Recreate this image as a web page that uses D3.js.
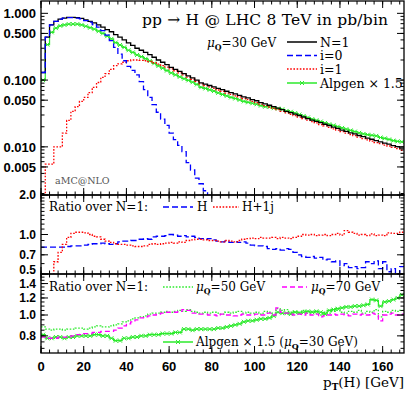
<!DOCTYPE html>
<html>
<head>
<meta charset="utf-8">
<script src="https://cdn.jsdelivr.net/npm/d3@7"></script>
<style>
  body { margin: 0; background: #fff; }
  svg { display: block; }
  .serif { font-family: 'DejaVu Serif', serif; }
  .tick-label { font-family: 'Liberation Sans', Arial, sans-serif; font-weight: bold; font-size: 13px; }
  .tick-label.small { font-size: 12px; }
</style>
</head>
<body>
<svg width="407" height="393"></svg>
<script>
// 2 GeV bins from 0 to 170 GeV
var binWidth = 2;

// top panel, pb/bin
var nOne = [0.13,0.44,0.67,0.76,0.82,0.85,0.87,0.87,0.86,0.84,
  0.80,0.76,0.72,0.67,0.62,0.57,0.53,0.48,0.44,0.40,
  0.36,0.33,0.30,0.28,0.26,0.24,0.22,0.20,0.185,0.17,
  0.155,0.145,0.135,0.125,0.116,0.108,0.100,0.091,0.087,0.083,
  0.079,0.075,0.072,0.068,0.065,0.062,0.059,0.056,0.054,0.051,
  0.049,0.046,0.044,0.042,0.040,0.038,0.036,0.034,0.0325,0.031,
  0.0295,0.028,0.0265,0.0252,0.024,0.023,0.0218,0.0209,0.0197,0.0189,
  0.0178,0.0171,0.0162,0.0156,0.0148,0.0142,0.0135,0.0130,0.0124,0.0119,
  0.0114,0.0110,0.0104,0.0101,0.0096];
var iZero = [0.13,0.44,0.67,0.76,0.82,0.85,0.86,0.86,0.85,0.83,
  0.78,0.74,0.68,0.62,0.55,0.47,0.39,0.31,0.245,0.195,
  0.16,0.14,0.12,0.095,0.072,0.055,0.043,0.033,0.026,0.021,
  0.016,0.0128,0.0105,0.0085,0.0058,0.0045,0.0034,0.0028,0.0022,0.0016];
var iOne = [0.0015,0.0055,0.0055,0.0100,0.0100,0.016,0.025,0.034,0.040,0.048,
  0.055,0.065,0.078,0.092,0.11,0.125,0.145,0.165,0.175,0.185,
  0.195,0.20,0.20,0.198,0.195,0.19,0.182,0.174,0.165,0.156,
  0.147,0.138,0.128,0.12,0.111,0.103,0.096,0.088,0.083,0.079,
  0.075,0.071,0.068,0.064,0.061,0.058,0.056,0.053,0.051,0.048,
  0.046,0.0435,0.0415,0.0395,0.0378,0.036,0.034,0.0322,0.0308,0.0294,
  0.0279,0.0266,0.0251,0.0239,0.0228,0.0216,0.0206,0.0196,0.0186,0.0178,
  0.0169,0.0161,0.0153,0.0148,0.0140,0.0133,0.0127,0.0122,0.0116,0.0112,
  0.0106,0.0103,0.0098,0.0094,0.0089];
var alpgen = [0.10,0.34,0.52,0.60,0.65,0.67,0.69,0.69,0.69,0.67,
  0.64,0.61,0.58,0.54,0.50,0.455,0.415,0.365,0.335,0.31,
  0.28,0.26,0.238,0.224,0.209,0.194,0.178,0.163,0.151,0.139,
  0.128,0.12,0.112,0.105,0.099,0.093,0.086,0.078,0.075,0.0715,
  0.0685,0.0645,0.061,0.058,0.055,0.053,0.0505,0.048,0.0465,0.045,
  0.0435,0.0415,0.040,0.0395,0.038,0.0375,0.0365,0.0345,0.0335,0.032,
  0.0305,0.029,0.0275,0.026,0.025,0.0239,0.0228,0.0218,0.021,0.0201,
  0.0192,0.0184,0.0176,0.0169,0.0162,0.0156,0.0152,0.0149,0.0146,0.0138,
  0.0134,0.0129,0.0124,0.0121,0.0119];

// middle panel, ratio over N=1
var ratioH = [0.80,0.80,0.80,0.80,0.80,0.80,0.81,0.82,0.82,0.82,
  0.83,0.84,0.85,0.85,0.86,0.85,0.84,0.85,0.88,0.89,
  0.89,0.90,0.90,0.92,0.93,0.92,0.96,0.97,0.97,0.98,
  1.00,0.99,0.97,0.98,0.96,0.97,0.95,0.93,0.92,0.93,
  0.91,0.89,0.88,0.89,0.87,0.88,0.87,0.88,0.86,0.83,
  0.82,0.82,0.81,0.78,0.77,0.78,0.76,0.78,0.77,0.73,
  0.70,0.68,0.67,0.68,0.66,0.67,0.64,0.65,0.62,0.63,
  0.58,0.60,0.56,0.57,0.55,0.56,0.62,0.60,0.63,0.55,
  0.62,0.52,0.55,0.50,0.57];
var ratioH1j = [0.20,0.30,0.45,0.62,0.73,0.84,0.95,1.02,1.04,1.04,
  1.03,1.00,0.97,0.96,0.92,0.89,0.87,0.85,0.84,0.84,
  0.83,0.82,0.81,0.81,0.82,0.84,0.85,0.84,0.85,0.86,
  0.87,0.86,0.88,0.87,0.90,0.91,0.92,0.92,0.91,0.90,
  0.90,0.89,0.88,0.90,0.89,0.88,0.90,0.92,0.93,0.94,
  0.93,0.95,0.94,0.94,0.95,0.93,0.95,0.94,0.93,0.95,
  0.97,1.00,0.99,1.00,0.98,0.99,1.00,0.98,1.00,1.02,
  0.99,1.07,1.04,1.02,0.99,1.00,0.98,1.01,0.98,0.99,
  0.98,1.03,1.02,1.02,1.04];

// bottom panel, ratio over N=1
var ratioMu50 = [0.88,0.86,0.85,0.86,0.86,0.85,0.86,0.86,0.87,0.87,
  0.86,0.87,0.88,0.89,0.88,0.88,0.89,0.90,0.91,0.93,
  0.94,0.96,0.97,0.98,0.99,1.01,1.02,1.02,1.03,1.04,
  1.03,1.04,1.05,1.04,1.06,1.04,1.03,1.02,1.03,1.02,
  1.03,1.02,1.01,1.03,1.02,1.03,1.04,1.02,1.03,1.02,
  1.03,1.01,1.04,1.03,1.02,1.07,1.05,1.06,1.03,1.04,
  1.03,1.05,1.02,1.04,1.02,1.00,1.03,1.02,1.04,1.05,
  1.03,1.02,1.04,1.03,1.05,1.02,1.04,1.03,1.06,0.98,
  1.04,1.03,1.05,1.04,1.05];
var ratioMu70 = [0.79,0.78,0.78,0.78,0.79,0.79,0.79,0.80,0.81,0.81,
  0.82,0.82,0.83,0.83,0.84,0.84,0.84,0.85,0.87,0.89,
  0.91,0.93,0.95,0.97,0.98,0.99,1.00,1.01,1.02,1.03,
  1.03,1.03,1.04,1.06,1.05,1.02,1.02,1.01,1.01,1.00,
  1.00,0.99,1.01,1.00,1.00,0.99,1.00,1.01,1.00,1.00,
  1.01,1.00,1.00,1.02,1.00,1.08,1.03,1.02,1.01,1.00,
  1.01,1.00,1.02,1.00,1.01,0.98,0.99,1.00,1.01,1.00,
  1.01,1.00,0.99,1.01,1.00,1.01,1.00,1.02,1.01,0.94,
  1.00,1.01,1.02,1.00,1.01];
var ratioAlpgen = [0.81,0.78,0.78,0.79,0.79,0.78,0.79,0.79,0.80,0.80,
  0.80,0.80,0.81,0.81,0.80,0.80,0.78,0.76,0.76,0.78,
  0.78,0.79,0.79,0.80,0.80,0.81,0.81,0.81,0.82,0.82,
  0.82,0.83,0.83,0.86,0.86,0.85,0.86,0.86,0.86,0.86,
  0.86,0.87,0.87,0.88,0.89,0.90,0.91,0.93,0.94,0.94,
  0.95,0.96,0.96,0.97,0.99,1.03,1.02,1.02,1.01,1.03,
  1.02,1.03,1.04,1.03,1.04,1.03,1.01,1.05,1.06,1.07,
  1.08,1.09,1.09,1.10,1.10,1.11,1.12,1.18,1.17,1.10,
  1.15,1.16,1.18,1.20,1.24];

var xTickValues = [0, 20, 40, 60, 80, 100, 120, 140, 160];
var topTickLabels = [1, 0.5, 0.1, 0.05, 0.01, 0.005];
var midTickLabels = [2.0, 1.0, 0.7, 0.5];
var botTickLabels = [1.4, 1.2, 1.0, 0.8];

var green = '#2cea2c';

var svg = d3.select('svg'),
    x = d3.scaleLinear().domain([0, 170]).range([41, 404]),
    yTop = d3.scaleLog().domain([0.0019, 1.53]).range([195, 1]),
    yMid = d3.scaleLog().domain([0.5, 2]).range([274, 195]),
    yBot = d3.scaleLog().domain([0.666, 1.551]).range([353, 274]);

// nudge: shift of a label off its tick, so the labels at the panel joins stay apart
var panels = [
  { id: 'top', y: yTop, labels: topTickLabels, fmt: d3.format('.3f'), small: false,
    nudge: {},
    minors: d3.range(2, 10).map(function(k) { return k * 0.001; })
      .concat(d3.range(1, 10).map(function(k) { return k * 0.01; }))
      .concat(d3.range(1, 10).map(function(k) { return k * 0.1; })) },
  { id: 'mid', y: yMid, labels: midTickLabels, fmt: d3.format('.1f'), small: true,
    nudge: { '0.5': -4.2 },
    minors: d3.range(5, 21).map(function(k) { return k / 10; }) },
  { id: 'bot', y: yBot, labels: botTickLabels, fmt: d3.format('.1f'), small: true,
    nudge: { '1.4': 0.6 },
    minors: d3.range(14, 31).map(function(k) { return k * 0.05; }) }
];

var defs = svg.append('defs');
panels.forEach(function(p) {
  var r = p.y.range();
  defs.append('clipPath').attr('id', 'clip-' + p.id)
    .append('rect')
      .attr('x', x(0)).attr('y', r[1])
      .attr('width', x(170) - x(0)).attr('height', r[0] - r[1]);
});

// histogram outline: [x0,v],[x1,v] for every bin
function steps(vals) {
  var pts = [];
  vals.forEach(function(v, i) {
    pts.push([i * binWidth, v], [(i + 1) * binWidth, v]);
  });
  return pts;
}

function drawHist(panel, vals, color, dash, width) {
  var line = d3.line()
    .x(function(d) { return x(d[0]); })
    .y(function(d) { return Math.min(panel.y.range()[0] + 20, panel.y(d[1])); });
  svg.append('path')
    .attr('clip-path', 'url(#clip-' + panel.id + ')')
    .attr('d', line(steps(vals)))
    .attr('fill', 'none')
    .attr('stroke', color)
    .attr('stroke-width', width || 1.1)
    .attr('stroke-dasharray', dash || null);
}

function drawCrosses(panel, vals, color) {
  svg.append('g')
    .attr('clip-path', 'url(#clip-' + panel.id + ')')
    .selectAll('path')
    .data(vals)
    .enter().append('path')
      .attr('transform', function(d, i) {
        return 'translate(' + x((i + 0.5) * binWidth) + ',' + panel.y(d) + ')';
      })
      .attr('d', 'M-2,-2L2,2M-2,2L2,-2')
      .attr('stroke', color)
      .attr('stroke-width', 1);
}

var pTop = panels[0], pMid = panels[1], pBot = panels[2];

// top panel curves
drawHist(pTop, alpgen, green, null, 1.2);
drawCrosses(pTop, alpgen, green);
drawHist(pTop, iOne, '#ff0000', '1.6,1.6', 1.3);
drawHist(pTop, nOne, '#000', null, 1.3);
drawHist(pTop, iZero, '#0000ff', '6,3', 1.3);

// middle panel
drawHist(pMid, ratioH, '#0000ff', '6,3', 1.3);
drawHist(pMid, ratioH1j, '#ff0000', '1.6,1.6', 1.3);

// bottom panel
drawHist(pBot, ratioAlpgen, green, null, 1.2);
drawCrosses(pBot, ratioAlpgen, green);
drawHist(pBot, ratioMu50, green, '1.6,1.6', 1.3);
drawHist(pBot, ratioMu70, '#ff00ff', '5,3', 1.3);

// frames and ticks
var xMinor = d3.range(0, 171, 4);
panels.forEach(function(p) {
  var r = p.y.range(), yb = r[0], yt = r[1];
  var g = svg.append('g').attr('stroke', '#000').attr('stroke-width', 1);
  // x ticks, top and bottom edges, pointing inwards
  xMinor.forEach(function(v) {
    g.append('line').attr('x1', x(v)).attr('x2', x(v)).attr('y1', yb).attr('y2', yb - 3.5);
    g.append('line').attr('x1', x(v)).attr('x2', x(v)).attr('y1', yt).attr('y2', yt + 3.5);
  });
  xTickValues.forEach(function(v) {
    g.append('line').attr('x1', x(v)).attr('x2', x(v)).attr('y1', yb).attr('y2', yb - 7);
    g.append('line').attr('x1', x(v)).attr('x2', x(v)).attr('y1', yt).attr('y2', yt + 7);
  });
  // y ticks, left and right edges
  p.minors.forEach(function(v) {
    var yy = p.y(v);
    if (yy < yt || yy > yb) return;
    g.append('line').attr('x1', x(0)).attr('x2', x(0) + 3.5).attr('y1', yy).attr('y2', yy);
    g.append('line').attr('x1', x(170)).attr('x2', x(170) - 3.5).attr('y1', yy).attr('y2', yy);
  });
  p.labels.forEach(function(v) {
    var yy = p.y(v), txt = p.fmt(v);
    g.append('line').attr('x1', x(0)).attr('x2', x(0) + 7).attr('y1', yy).attr('y2', yy);
    g.append('line').attr('x1', x(170)).attr('x2', x(170) - 7).attr('y1', yy).attr('y2', yy);
    svg.append('text').attr('class', 'tick-label' + (p.small ? ' small' : ''))
      .attr('x', 36).attr('y', yy + (p.nudge[txt] || 0)).attr('dy', '0.36em')
      .attr('text-anchor', 'end')
      .text(txt);
  });
  svg.append('rect')
    .attr('x', x(0)).attr('y', yt)
    .attr('width', x(170) - x(0)).attr('height', yb - yt)
    .attr('fill', 'none').attr('stroke', '#000').attr('stroke-width', 1.3);
});

// x tick labels
xTickValues.forEach(function(v) {
  svg.append('text').attr('class', 'tick-label')
    .attr('x', x(v)).attr('y', 371)
    .attr('text-anchor', 'middle')
    .text(v);
});

// x axis title
var xt = svg.append('text').attr('class', 'serif')
  .attr('x', 404).attr('y', 387).attr('text-anchor', 'end')
  .attr('font-size', 13.5);
xt.append('tspan').text('p');
xt.append('tspan').attr('font-size', 9).attr('font-weight', 'bold').attr('dy', 3).text('T');
xt.append('tspan').attr('dy', -3).text('(H) [GeV]');

// top panel text
svg.append('text').attr('class', 'serif')
  .attr('x', 142).attr('y', 25).attr('font-size', 15.5)
  .attr('textLength', 246).attr('lengthAdjust', 'spacing')
  .text('pp \u2192 H @ LHC 8 TeV in pb/bin');

function muText(xx, yy, rest, size) {
  var t = svg.append('text').attr('class', 'serif')
    .attr('x', xx).attr('y', yy).attr('font-size', size);
  t.append('tspan').attr('font-style', 'italic').text('\u03bc');
  t.append('tspan').attr('font-size', size * 0.65).attr('font-weight', 'bold').attr('dy', 3).text('Q');
  t.append('tspan').attr('dy', -3).text(rest);
  return t;
}

muText(207, 47, '=30 GeV', 12);

var topLegend = [
  { label: 'N=1', color: '#000', dash: null, y: 42 },
  { label: 'i=0', color: '#0000ff', dash: '6,3', y: 55.5 },
  { label: 'i=1', color: '#ff0000', dash: '1.6,1.6', y: 69 },
  { label: 'Alpgen \u00d7 1.5', color: green, dash: null, y: 83, cross: true }
];
topLegend.forEach(function(d) {
  svg.append('line').attr('x1', 287).attr('x2', 317).attr('y1', d.y).attr('y2', d.y)
    .attr('stroke', d.color).attr('stroke-width', 1.5).attr('stroke-dasharray', d.dash);
  if (d.cross) {
    svg.append('path').attr('transform', 'translate(302,' + d.y + ')')
      .attr('d', 'M-2,-2L2,2M-2,2L2,-2').attr('stroke', d.color);
  }
  svg.append('text').attr('class', 'serif')
    .attr('x', 320).attr('y', d.y + 4.5).attr('font-size', 12.5)
    .text(d.label);
});

svg.append('text').attr('class', 'serif')
  .attr('x', 55).attr('y', 184).attr('font-size', 9.5).attr('fill', '#555')
  .text('aMC@NLO');

// middle panel legend
svg.append('text').attr('class', 'serif')
  .attr('x', 49).attr('y', 211).attr('font-size', 12).text('Ratio over N=1:');
svg.append('line').attr('x1', 163).attr('x2', 193).attr('y1', 207).attr('y2', 207)
  .attr('stroke', '#0000ff').attr('stroke-width', 1.5).attr('stroke-dasharray', '6,3');
svg.append('text').attr('class', 'serif')
  .attr('x', 197).attr('y', 211).attr('font-size', 12).text('H');
svg.append('line').attr('x1', 213).attr('x2', 239).attr('y1', 207).attr('y2', 207)
  .attr('stroke', '#ff0000').attr('stroke-width', 1.5).attr('stroke-dasharray', '1.6,1.6');
svg.append('text').attr('class', 'serif')
  .attr('x', 242).attr('y', 211).attr('font-size', 12).text('H+1j');

// bottom panel legend
svg.append('text').attr('class', 'serif')
  .attr('x', 49).attr('y', 291).attr('font-size', 12).text('Ratio over N=1:');
svg.append('line').attr('x1', 163).attr('x2', 193).attr('y1', 287).attr('y2', 287)
  .attr('stroke', green).attr('stroke-width', 1.5).attr('stroke-dasharray', '1.6,1.6');
muText(196, 291, '=50 GeV', 12);
svg.append('line').attr('x1', 282).attr('x2', 307).attr('y1', 287).attr('y2', 287)
  .attr('stroke', '#ff00ff').attr('stroke-width', 1.5).attr('stroke-dasharray', '5,3');
muText(311, 291, '=70 GeV', 12);
svg.append('line').attr('x1', 163).attr('x2', 193).attr('y1', 342).attr('y2', 342)
  .attr('stroke', green).attr('stroke-width', 1.5);
svg.append('path').attr('transform', 'translate(178,342)')
  .attr('d', 'M-2,-2L2,2M-2,2L2,-2').attr('stroke', green);
var al = svg.append('text').attr('class', 'serif')
  .attr('x', 196).attr('y', 346).attr('font-size', 12);
al.append('tspan').text('Alpgen \u00d7 1.5 (');
al.append('tspan').attr('font-style', 'italic').text('\u03bc');
al.append('tspan').attr('font-size', 8).attr('font-weight', 'bold').attr('dy', 3).text('Q');
al.append('tspan').attr('dy', -3).text('=30 GeV)');
</script>
</body>
</html>
